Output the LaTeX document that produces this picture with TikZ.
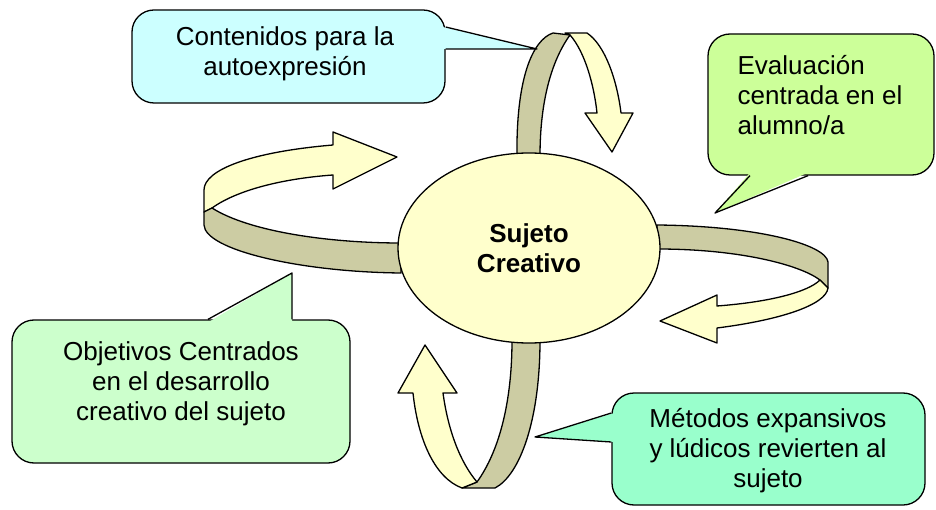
\documentclass[tikz,border=0pt]{standalone}
\usepackage{fontspec}
\setmainfont{Liberation Sans}
\usetikzlibrary{shapes.geometric,calc}
\definecolor{cyanbox}{HTML}{CCFFFF}
\definecolor{limebox}{HTML}{CCFF99}
\definecolor{mintbox}{HTML}{CCFFCC}
\definecolor{aquabox}{HTML}{99FFCC}
\definecolor{creamfill}{HTML}{FFFFCC}
\definecolor{khakifill}{HTML}{CCCCA3}
\begin{document}
\begin{tikzpicture}[x=1pt,y=-1pt,line width=1.3pt,line join=round,
    callbox/.style={draw,rectangle,rounded corners=22pt,inner sep=0pt},
    txt/.style={font=\fontsize{26}{30}\selectfont,align=center,inner sep=0pt},
    front/.style={draw,fill=creamfill},
    back/.style={draw,fill=khakifill}]
\useasboundingbox (0,0) rectangle (936,510);

% ribbons round the subject
\path[front] (565,33) -- (587,33) .. controls (605,45) and (617,80) .. (621,113) -- (633,113) -- (612,152) -- (585,113) -- (597,113) .. controls (594,85) and (585,52) .. (570,35) -- cycle;
\path[back] (517,156) .. controls (516,80) and (532,40) .. (553,33) -- (570,35) .. controls (552,60) and (540,100) .. (540,156) -- cycle;

\path[front] (204,212) -- (204,190) .. controls (204,170) and (250,152) .. (333,145) -- (333,132) -- (397,157) -- (333,189) -- (333,175) .. controls (290,178) and (240,188) .. (212,208) -- cycle;
\path[back] (212,208) .. controls (250,232) and (330,243) .. (401,243) -- (401,273) .. controls (300,272) and (205,250) .. (204,225) -- (204,212) -- cycle;

\path[back] (657,225) .. controls (760,226) and (826,245) .. (828,262) -- (828,288) -- (820,280) .. controls (800,265) and (740,249) .. (657,249) -- cycle;
\path[front] (820,280) -- (828,288) .. controls (826,305) and (780,320) .. (717,328) -- (717,343) -- (660,321) -- (717,295) -- (717,306) .. controls (770,302) and (808,292) .. (820,280) -- cycle;

\path[back] (512,340) -- (540,340) .. controls (540,420) and (520,475) .. (495,488) -- (462,488) -- (477,482) .. controls (500,450) and (512,400) .. (512,340) -- cycle;
\path[front] (462,488) .. controls (435,478) and (418,440) .. (413,393) -- (398,393) -- (425,345) -- (457,393) -- (443,393) .. controls (448,430) and (460,462) .. (477,482) -- cycle;

\node[ellipse,draw,fill=creamfill,minimum width=262pt,minimum height=190pt,txt,font=\fontsize{26}{30}\selectfont\bfseries] (sujeto) at (529,248) {Sujeto\\Creativo};

% callouts
\node[callbox,fill=cyanbox,minimum width=313pt,minimum height=93pt] (cont) at (288.5,56.5) {};
\node[callbox,fill=limebox,minimum width=226pt,minimum height=141pt] (eval) at (821,104.5) {};
\node[callbox,fill=mintbox,minimum width=338pt,minimum height=143pt] (obj) at (181,391.5) {};
\node[callbox,fill=aquabox,minimum width=313pt,minimum height=112pt] (metod) at (768.5,449) {};

\coordinate (conttip) at (537,49);
\coordinate (evaltip) at (715,213);
\coordinate (objtip) at (292,273);
\coordinate (metodtip) at (535,437);

\fill[cyanbox] ($(cont.east)+(-3,-29.5)$) -- (conttip) -- ($(cont.east)+(-3,-7.5)$) -- cycle;
\draw ($(cont.east)+(0,-29.5)$) -- (conttip) -- ($(cont.east)+(0,-7.5)$);
\fill[limebox] ($(eval.south)+(-71,-3)$) -- (evaltip) -- ($(eval.south)+(-13,-3)$) -- cycle;
\draw ($(eval.south)+(-71,0)$) -- (evaltip) -- ($(eval.south)+(-13,0)$);
\fill[mintbox] ($(obj.north)+(27,3)$) -- (objtip) -- ($(obj.north)+(111,3)$) -- cycle;
\draw ($(obj.north)+(27,0)$) -- (objtip) -- ($(obj.north)+(111,0)$);
\fill[aquabox] ($(metod.west)+(3,-36)$) -- (metodtip) -- ($(metod.west)+(3,-7)$) -- cycle;
\draw ($(metod.west)+(0,-36)$) -- (metodtip) -- ($(metod.west)+(0,-7)$);

\node[txt] (conttext) at (285,54) {Contenidos para la\\autoexpresión};
\node[txt,align=left] (evaltext) at (820,95) {Evaluación\\centrada en el\\alumno/a};
\node[txt] (objtext) at (181,384) {Objetivos Centrados\\en el desarrollo\\creativo del sujeto};
\node[txt] (metodtext) at (768,451) {Métodos expansivos\\y lúdicos revierten al\\sujeto};
\end{tikzpicture}
\end{document}
